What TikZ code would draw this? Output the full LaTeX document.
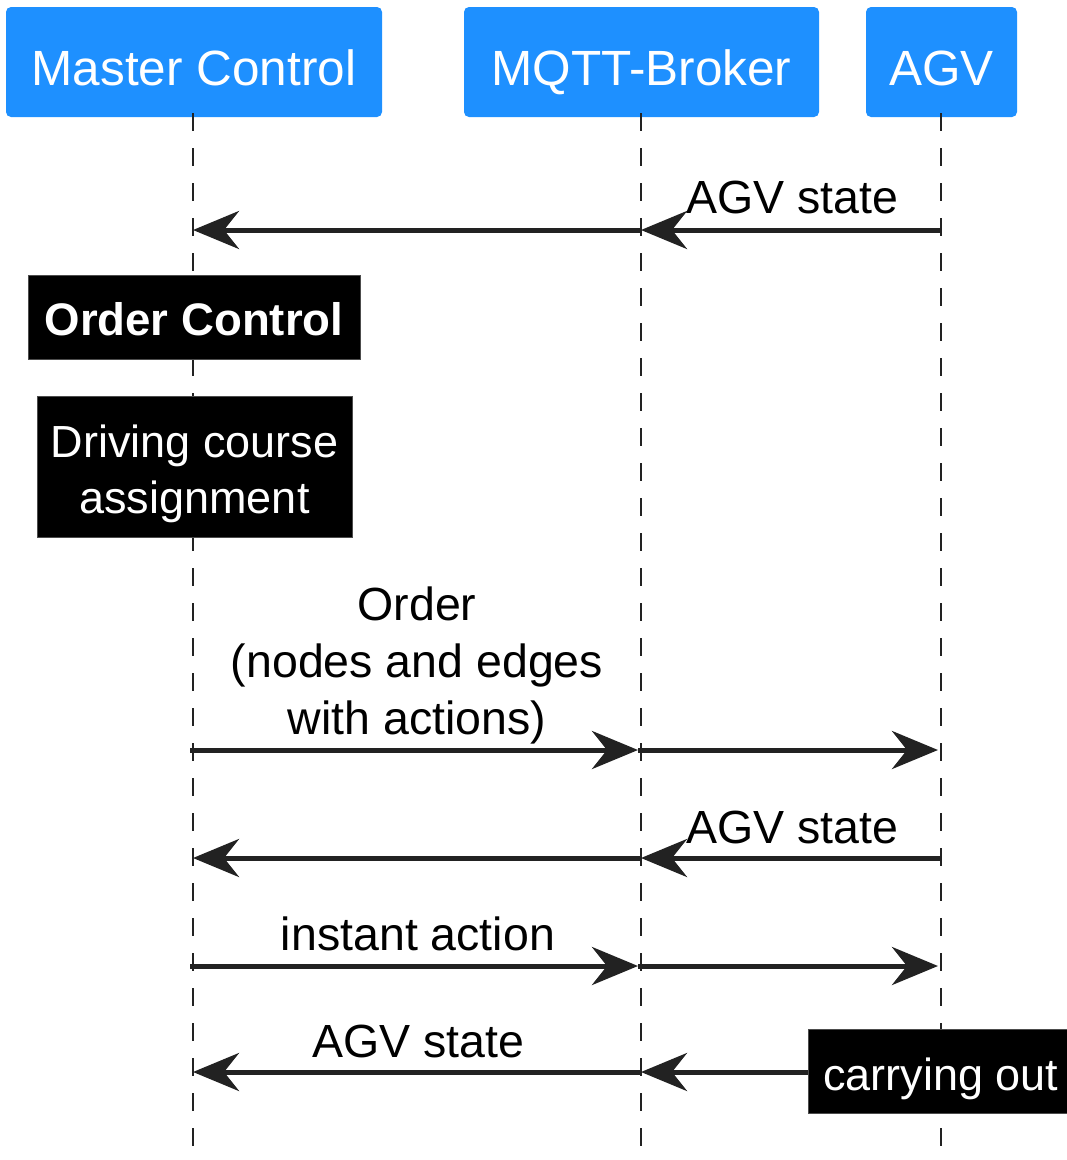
\documentclass[tikz,border=0pt]{standalone}
\usepackage{fontspec}
\setmainfont{Liberation Sans}
\usetikzlibrary{arrows.meta}
\definecolor{hdrblue}{HTML}{1E90FF}
\definecolor{ink}{HTML}{222222}
\begin{document}
\begin{tikzpicture}[x=1pt,y=-1pt,
  hdr/.style={fill=hdrblue, rounded corners=5pt, text=white, inner sep=0pt,
    minimum height=110pt, text height=46pt, text depth=0pt,
    font=\fontsize{49.5}{59}\selectfont},
  lifeline/.style={draw=ink, line width=1.8pt, dash pattern=on 18pt off 17pt},
  msg/.style={draw=ink, line width=5pt,
    -{Stealth[length=46pt,width=38pt,inset=15pt]}},
  lbl/.style={anchor=base, text=black, inner sep=0pt,
    font=\fontsize{46.5}{57}\selectfont},
  notebox/.style={fill=black, draw=black!70, line width=0.8pt, text=white,
    inner sep=0pt, font=\fontsize{45}{56}\selectfont}]

\useasboundingbox (0,0) rectangle (1067,1160);

% participants
\node[hdr, minimum width=376pt] (mc) at (194,62) {Master Control};
\node[hdr, minimum width=355pt] (mq) at (641.5,62) {MQTT-Broker};
\node[hdr, minimum width=151pt] (agv) at (941.5,62) {AGV};

% lifelines
\coordinate (mcEnd) at (193,1160);
\coordinate (mqEnd) at (641,1160);
\coordinate (agvEnd) at (941,1160);
\draw[lifeline] ([yshift=4pt]mc.south -| mcEnd) -- (mcEnd);
\draw[lifeline] ([yshift=4pt]mq.south -| mqEnd) -- (mqEnd);
\draw[lifeline] ([yshift=4pt]agv.south -| agvEnd) -- (agvEnd);

% notes on the lifelines
\node[notebox, font=\bfseries\fontsize{45.6}{56}\selectfont,
  minimum width=332pt, minimum height=84pt, text height=36pt, text depth=0pt]
  (oc) at (194,317) {Order Control};
\node[notebox, minimum width=315pt, minimum height=141pt, align=center]
  (dc) at (194.5,466.5) {\rule{0pt}{47pt}Driving course\\assignment};
\node[notebox, minimum width=266pt, minimum height=84pt,
  text height=38pt, text depth=0pt]
  (co) at (941,1071) {carrying out};

% message 1: AGV state
\coordinate (a1) at (941,230);
\coordinate (b1) at (641,230);
\coordinate (m1) at (193,230);
\draw[msg] (a1) -- (b1);
\draw[msg] (b1) -- (m1);
\node[lbl] (l1) at (792,213) {AGV state};

% message 2: order
\coordinate (m2) at (190,750);
\coordinate (b2) at (638,750);
\coordinate (a2) at (938,750);
\draw[msg] (m2) -- (b2);
\draw[msg] (b2) -- (a2);
\node[lbl] (l2a) at (417,620) {Order};
\node[lbl] (l2b) at (417,677) {(nodes and edges};
\node[lbl] (l2c) at (417,734) {with actions)};

% message 3: AGV state
\coordinate (a3) at (941,858);
\coordinate (b3) at (641,858);
\coordinate (m3) at (193,858);
\draw[msg] (a3) -- (b3);
\draw[msg] (b3) -- (m3);
\node[lbl] (l3) at (792,843) {AGV state};

% message 4: instant action
\coordinate (m4) at (190,966);
\coordinate (b4) at (638,966);
\coordinate (a4) at (938,966);
\draw[msg] (m4) -- (b4);
\draw[msg] (b4) -- (a4);
\node[lbl] (l4) at (418,950) {instant action};

% message 5: AGV state while carrying out
\coordinate (b5) at (641,1072);
\coordinate (m5) at (193,1072);
\draw[msg] (co.west |- b5) -- (b5);
\draw[msg] (b5) -- (m5);
\node[lbl] (l5) at (418,1057) {AGV state};
\end{tikzpicture}
\end{document}
